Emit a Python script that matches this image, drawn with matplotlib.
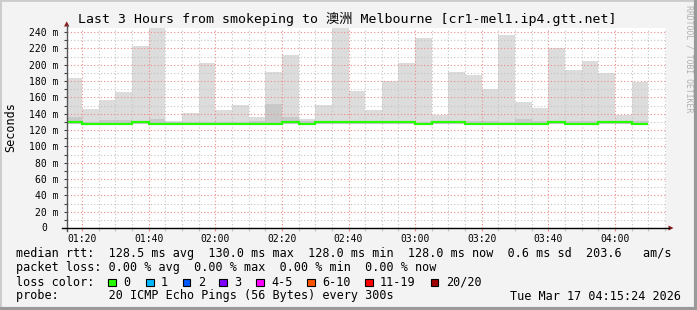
"""
Smokeping latency graph: last 3 hours to Melbourne
"""
import matplotlib.pyplot as plt
import matplotlib.transforms as mtransforms
from matplotlib.patches import Rectangle, Polygon
from matplotlib.lines import Line2D

# 5 minute buckets (start time of each bucket) and the last edge
bar_times = ["01:15", "01:20", "01:25", "01:30", "01:35", "01:40", "01:45", "01:50",
             "01:55", "02:00", "02:05", "02:10", "02:15", "02:20", "02:25", "02:30",
             "02:35", "02:40", "02:45", "02:50", "02:55", "03:00", "03:05", "03:10",
             "03:15", "03:20", "03:25", "03:30", "03:35", "03:40", "03:45", "03:50",
             "03:55", "04:00", "04:05", "04:10"]

# smoke (ms): lowest ping, darker inner band, highest ping
smoke_min = [127, 126.5, 126.5, 126.5, 127, 126.5, 126.5, 126.5, 126.5, 126.5, 126.5, 126.5,
             126.5, 127, 126.5, 127, 127, 127, 127, 127, 127, 126.5, 127, 127,
             126.5, 126.5, 126.5, 126.5, 126.5, 127, 126.5, 126.5, 127, 127, 126.5]
smoke_mid = [136, 130, 132, 132, 131, 133.5, 129.5, 129.5, 129.5, 129.5, 129.5, 130.5,
             152, 136, 131, 131, 131, 131.5, 131, 131, 131, 130, 131, 131,
             130.5, 130.5, 130, 134, 130.5, 131, 131, 130.5, 131, 131, 130.5]
smoke_max = [184, 146, 157, 167, 223, 250, 131, 141, 202, 144.5, 150.5, 136,
             191, 212, 134, 150.5, 250, 168, 145, 180, 202, 233, 138, 191,
             188, 170, 236, 154.5, 147, 220, 193.5, 204.5, 190, 139, 179]
median_rtt = [130, 128, 128, 128, 130, 128, 128, 128, 128, 128, 128, 128,
              128, 130, 128, 130, 130, 130, 130, 130, 130, 128, 130, 130,
              128, 128, 128, 128, 128, 130, 128, 128, 130, 130, 128]

x_ticks = ["01:20", "01:40", "02:00", "02:20", "02:40", "03:00", "03:20", "03:40", "04:00"]
y_ticks = [0, 20, 40, 60, 80, 100, 120, 140, 160, 180, 200, 220, 240]

loss_labels = ["0", "1", "2", "3", "4-5", "6-10", "11-19", "20/20"]
loss_colors = ["#26ff00", "#00b8ff", "#0059ff", "#7e00ff", "#ff00ff", "#ff5500", "#ff0000", "#a10000"]
loss_box_x = [108.3, 146, 182.7, 219.3, 256, 307, 365, 430.7]

title = "Last 3 Hours from smokeping to 澳洲 Melbourne [cr1-mel1.ip4.gtt.net]"
legend_lines = [
    "median rtt:  128.5 ms avg  130.0 ms max  128.0 ms min  128.0 ms now  0.6 ms sd  203.6   am/s",
    "packet loss: 0.00 % avg  0.00 % max  0.00 % min  0.00 % now",
    "loss color:",
    "probe:       20 ICMP Echo Pings (56 Bytes) every 300s",
]
stamp = "Tue Mar 17 04:15:24 2026"

MONO = ["DejaVu Sans Mono", "Noto Sans CJK SC"]
W, H = 697, 310


def to_min(t):
    h, m = t.split(":")
    return int(h) * 60 + int(m)


def px(x, y):
    # pixel position (from top left) -> figure fraction
    return x / W, 1 - y / H


edges = [to_min(t) for t in bar_times]
t_end = to_min("04:15") + 24 / 60
t_start = t_end - 180

fig = plt.figure(figsize=(W / 100, H / 100), dpi=100, facecolor="#f3f3f3")
ax = fig.add_axes([66.7 / W, 1 - 228 / H, (666.3 - 66.7) / W, 200 / H])
ax.set_facecolor("white")

# smoke + median
ax.stairs(smoke_max, edges, baseline=smoke_min, fill=True, color="#dcdcdc", zorder=1)
ax.stairs(smoke_mid, edges, baseline=smoke_min, fill=True, color="#c9c9c9", zorder=1.1)
ax.stairs(median_rtt, edges, baseline=None, color="#26ff00", linewidth=1.6, zorder=3)

ax.set_xlim(t_start, t_end)
ax.set_ylim(0, 245)

# grid: minor gray, major red, both dotted and over the smoke
ax.set_xticks([to_min(t) for t in x_ticks], labels=x_ticks)
ax.set_xticks([m for m in range(80, 256, 5)], minor=True)
# rrdtool pads the bare "0" as if it had the " m" suffix, so draw that one by hand
ax.set_yticks(y_ticks, labels=[f"{v} m" if v else "" for v in y_ticks])
ax.set_yticks(range(10, 245, 20), minor=True)
ax.set_axisbelow(False)
ax.grid(True, which="minor", color="#c4c4c4", linestyle=(0, (1, 2)), linewidth=0.8)
ax.grid(True, which="major", color="#f08a8a", linestyle=(0, (1, 2)), linewidth=0.8)

ax.tick_params(axis="both", which="both", labelsize=7, length=2, width=0.8,
               colors="#444444", labelcolor="black")
ax.tick_params(axis="x", which="major", color="#f08a8a", pad=2.5)
ax.tick_params(axis="x", which="minor", color="#c4c4c4")
ax.tick_params(axis="y", which="both", pad=3.9)
for lab in ax.get_xticklabels() + ax.get_yticklabels():
    lab.set_family(MONO)
for s in ax.spines.values():
    s.set_visible(False)

zero_tr = mtransforms.blended_transform_factory(ax.transAxes, ax.transData) + \
    mtransforms.ScaledTranslation(-19.6 / 100, 0, fig.dpi_scale_trans)
ax.text(0, 0, "0", transform=zero_tr, ha="right", va="center", fontsize=7, family=MONO)

# axis lines with arrows
fig.add_artist(Line2D([66.7 / W] * 2, [px(0, 231)[1], px(0, 25)[1]], color="#555555", lw=1))
fig.add_artist(Line2D([62 / W, 669 / W], [px(0, 228)[1]] * 2, color="black", lw=1))
fig.add_artist(Polygon([px(64, 26.5), px(69.4, 26.5), px(66.7, 21.3)], closed=True,
                       color="#8b1a1a", lw=0))
fig.add_artist(Polygon([px(668.5, 225.5), px(668.5, 230.5), px(673.5, 228)], closed=True,
                       color="#8b1a1a", lw=0))

# title and side texts
fig.text(*px(347, 19), title, ha="center", va="center", fontsize=9.5, family=MONO)
fig.text(*px(10.7, 127.5), "Seconds", rotation=90, ha="center", va="center",
         fontsize=8.5, family=MONO)
fig.text(*px(688.5, 5), "RRDTOOL / TOBI OETIKER", rotation=270, ha="center", va="top",
         fontsize=5.9, family=MONO, color="#b0b0b0")

# legend block
for i, line in enumerate(legend_lines):
    fig.text(*px(16, 254 + 14 * i), line, ha="left", va="center", fontsize=8.5, family=MONO)
for bx, lab, col in zip(loss_box_x, loss_labels, loss_colors):
    fig.add_artist(Rectangle(px(bx, 286.3), 7.7 / W, 7.8 / H, facecolor=col,
                             edgecolor="black", lw=0.8))
    fig.text(*px(bx + 15, 282), lab, ha="left", va="center", fontsize=8.5, family=MONO)
fig.text(*px(681, 296), stamp, ha="right", va="center", fontsize=8.5, family=MONO)

# image frame (light top/left, dark bottom/right)
fig.add_artist(Rectangle((0, 0), 1, 1, fill=False, edgecolor="#cbcbcb", lw=2))
fig.add_artist(Line2D([0, 1], [1.5 / H] * 2, color="#999999", lw=3))
fig.add_artist(Line2D([1 - 1.5 / W] * 2, [0, 1], color="#999999", lw=3))

plt.savefig("out.png", dpi=100, facecolor=fig.get_facecolor())
